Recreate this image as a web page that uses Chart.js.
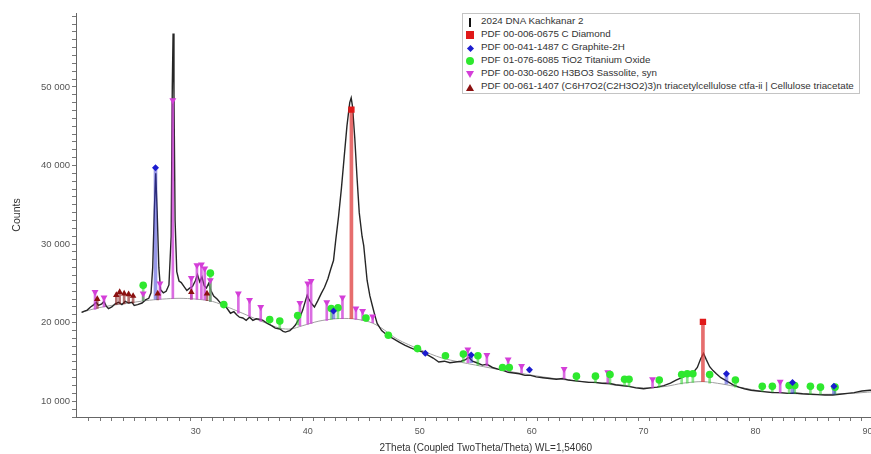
<!DOCTYPE html>
<html>
<head>
<meta charset="utf-8">
<script src="https://cdn.jsdelivr.net/npm/chart.js@4.4.1/dist/chart.umd.min.js"></script>
<style>
  html, body { margin: 0; padding: 0; background: #fff; overflow: hidden; }
  #wrap { position: relative; width: 900px; height: 454px; }
  #legend {
    position: absolute; left: 462px; top: 13px; width: 398px;
    border: 1px solid #c4c4c4; background: #fff; box-sizing: border-box;
    font: 9.8px "Liberation Sans", Arial, sans-serif; color: #333;
    padding: 0 0 1px 0;
  }
  #legend div { height: 13px; line-height: 13px; white-space: nowrap; }
  .mk { display: inline-block; width: 14px; text-align: center; vertical-align: middle; margin-right: 4px; }
  .mk i { display: inline-block; vertical-align: middle; }
</style>
</head>
<body>
<div id="wrap">
  <canvas id="xrd" width="900" height="454"></canvas>
  <div id="legend">
    <div><span class="mk"><i style="width:2px;height:9px;background:#111"></i></span>2024 DNA Kachkanar 2</div>
    <div><span class="mk"><i style="width:8px;height:8px;background:#e01818"></i></span>PDF 00-006-0675 C Diamond</div>
    <div><span class="mk"><i style="width:5px;height:5px;background:#1c1ccf;transform:rotate(45deg)"></i></span>PDF 00-041-1487 C Graphite-2H</div>
    <div><span class="mk"><i style="width:8px;height:8px;border-radius:50%;background:#2ee82e"></i></span>PDF 01-076-6085 TiO2 Titanium Oxide</div>
    <div><span class="mk"><i style="width:0;height:0;border-left:4px solid transparent;border-right:4px solid transparent;border-top:7px solid #d43ed8"></i></span>PDF 00-030-0620 H3BO3 Sassolite, syn</div>
    <div><span class="mk"><i style="width:0;height:0;border-left:4px solid transparent;border-right:4px solid transparent;border-bottom:7px solid #8b1010"></i></span>PDF 00-061-1407 (C6H7O2(C2H3O2)3)n triacetylcellulose ctfa-ii | Cellulose triacetate</div>
  </div>
</div>
<script>
// measured pattern
const twoTheta = [19.8,20.0,20.3,20.6,20.9,21.1,21.3,21.6,21.8,22.0,22.2,22.5,22.8,23.1,23.4,23.7,24.0,24.3,24.5,24.8,
  25.2,25.5,25.8,26.0,26.15,26.3,26.42,26.55,26.7,26.85,27.1,27.35,27.6,27.8,27.9,27.97,28.05,28.15,28.3,28.5,
  28.7,29.0,29.2,29.45,29.7,29.95,30.15,30.35,30.55,30.75,30.95,31.15,31.35,31.6,31.9,32.2,32.5,32.8,33.1,33.4,
  33.65,33.9,34.2,34.5,34.8,35.1,35.4,35.8,36.0,36.4,36.8,37.1,37.5,37.8,38.0,38.4,38.7,38.9,39.1,39.3,
  39.55,39.8,39.95,40.1,40.35,40.6,40.9,41.2,41.5,41.8,42.05,42.3,42.5,42.75,43.0,43.25,43.5,43.75,43.88,44.0,
  44.2,44.4,44.6,44.85,45.0,45.3,45.55,45.8,46.0,46.2,46.6,47.1,47.6,48.2,48.7,49.2,49.7,50.2,50.7,51.2,
  51.7,52.2,52.7,53.2,53.7,54.1,54.4,54.7,55.1,55.6,56.0,56.5,57.0,57.5,57.9,58.4,58.9,59.4,59.9,60.4,
  61.0,61.6,62.2,62.8,63.3,63.9,64.5,65.1,65.7,66.3,66.9,67.5,68.1,68.7,69.3,70.0,70.6,71.2,71.8,72.4,
  72.9,73.4,73.9,74.4,74.8,75.1,75.35,75.6,75.9,76.2,76.5,76.9,77.4,78.0,78.5,79.0,79.6,80.2,80.9,81.5,
  82.2,82.9,83.5,84.2,84.9,85.5,86.2,86.9,87.5,88.2,88.8,89.5,90.2,91.0,92.0];
const counts = [21300,21450,21600,22000,22300,22600,22200,22400,22700,22100,21800,22000,22400,22600,22300,22700,22500,22600,22200,22300,
  22500,22900,23100,23800,27000,34500,39000,34000,27000,24200,23800,24000,24800,31000,50000,56800,49000,33000,26500,25300,
  25100,24500,24100,24400,24600,25300,26100,25200,25800,24700,24400,25000,24100,23400,23000,22500,22300,21800,21200,21400,
  21000,20700,20600,20300,20700,20300,20500,20400,20300,19900,19600,19300,19200,18900,18800,19000,19400,19700,20200,20700,
  21600,22800,23500,23000,22400,22000,22800,23700,24500,25600,26800,27900,30500,33500,37000,41000,45000,48000,48600,47500,
  43500,38500,34000,31000,29800,25400,23400,22000,20900,19900,19000,18400,18000,17500,17100,16800,16500,16300,15900,15500,
  15000,15100,14900,15000,15100,15300,15600,15100,14900,14600,14700,14300,14100,13900,13700,13600,13500,13300,13300,13100,
  13000,12900,12800,12900,12700,12600,12500,12400,12400,12300,12300,12100,12000,11900,11700,11600,11700,11800,12000,12300,
  12700,13000,13300,13600,14300,15400,16100,15300,14400,13900,13500,13000,12600,12100,11800,11600,11400,11300,11200,11100,
  11100,11000,11050,10950,10900,10850,10800,10800,10900,11000,11100,11300,11400,11400,11450];

// background curve
const bgTheta = [19.8,21,22.5,24,25.5,27,28.5,30,31.5,33,34.5,36,37.5,38.5,39.5,41,42.5,44,45.5,46.5,
  48,50,52,55,58,62,66,70,72,73.5,75.3,77,78.5,81,85,88,92];
const bgCounts = [21300,21800,22200,22500,22800,23000,23100,23000,22700,21900,21000,20100,19300,19200,19600,20200,20500,20500,20100,19400,
  17900,16600,15500,14600,13800,12900,12300,11700,11900,12300,12500,12200,11800,11200,10900,10950,11400];

// reference phases: position, marker height, stick base
const diamondPos = [43.9, 75.3];
const diamondTop = [47100, 20100];
const diamondBase = [20500, 12500];

const graphitePos = [26.4, 42.3, 50.5, 54.6, 59.8, 77.4, 83.3, 87.0];
const graphiteTop = [39700, 21500, 16100, 15900, 14000, 13500, 12400, 11900];
const graphiteBase = [23000, 20500, 15900, 14900, 13700, 12200, 11000, 10900];

const tioPos = [25.3, 31.3, 32.5, 36.6, 37.5, 39.1, 42.1, 42.7, 45.2, 47.2, 49.8, 52.3, 53.9, 55.2, 57.4, 58.0, 64.0,
  65.7, 67.0, 68.3, 68.7, 71.4, 73.4, 73.9, 74.4, 75.9, 78.2, 80.6, 81.5, 83.0, 83.5, 84.9, 85.8, 87.1];
const tioTop = [24750, 26300, 22300, 20400, 20200, 20900, 21800, 21900, 20600, 18400, 16700, 15800, 16000, 15800, 14300, 14300, 13200,
  13200, 13400, 12800, 12800, 12700, 13400, 13500, 13500, 13400, 12700, 11900, 11900, 12000, 12000, 11900, 11800, 11800];
const tioBase = [22800, 22700, 22200, 19900, 19300, 19700, 20400, 20500, 20200, 18300, 16600, 15500, 15000, 14600, 14000, 13800, 12600,
  12400, 12200, 12000, 11900, 11800, 12200, 12300, 12400, 12300, 11800, 11300, 11200, 11000, 11000, 10900, 10900, 10900];

const sassPos = [21.0, 21.8, 25.3, 26.8, 27.95, 29.6, 30.1, 30.5, 30.8, 31.3, 33.8, 34.8, 35.8, 39.3, 40.0, 40.3, 41.7,
  43.1, 44.3, 44.9, 45.8, 54.3, 56.0, 57.9, 59.1, 62.9, 66.8, 70.8, 82.2];
const sassTop = [23900, 23200, 23700, 25000, 48300, 25700, 27300, 27400, 26900, 25400, 23700, 22900, 22000, 22500, 25000, 25300, 22600,
  23200, 21800, 21500, 20800, 16600, 15900, 15300, 14500, 14100, 13700, 12800, 12500];
const sassBase = [21700, 22000, 22800, 23000, 23100, 23000, 23000, 23000, 22900, 22700, 21200, 20800, 20200, 19600, 19800, 19900, 20300,
  20500, 20400, 20300, 20000, 14900, 14500, 13800, 13600, 12900, 12300, 11700, 11100];

const cellPos = [21.2, 22.9, 23.2, 23.6, 24.0, 24.4, 26.6, 29.6, 31.0];
const cellTop = [23000, 23500, 23900, 23700, 23600, 23400, 23700, 23900, 23700];
const cellBase = [21800, 22300, 22400, 22400, 22500, 22500, 22900, 23000, 22800];

Chart.defaults.font.family = '"Liberation Sans", Arial, sans-serif';

function sticks(pos, base, top, color, width) {
  return {
    type: "bar",
    data: pos.map((p, i) => ({ x: p, y: [base[i], top[i]] })),
    backgroundColor: color,
    borderWidth: 0,
    barThickness: width,
    grouped: false,
    order: 5
  };
}

function markers(pos, top, style, color, radius, rotation) {
  return {
    type: "scatter",
    data: pos.map((p, i) => ({ x: p, y: top[i] })),
    showLine: false,
    pointStyle: style,
    pointRadius: radius,
    pointRotation: rotation || 0,
    pointBackgroundColor: color,
    pointBorderColor: color,
    pointBorderWidth: 0,
    order: 1
  };
}

new Chart(document.getElementById("xrd"), {
  type: "scatter",
  data: {
    datasets: [
      {
        type: "line",
        data: bgTheta.map((t, i) => ({ x: t, y: bgCounts[i] })),
        borderColor: "#a0a0a0",
        borderWidth: 1,
        pointRadius: 0,
        showLine: true,
        tension: 0.3,
        order: 11
      },
      {
        type: "line",
        data: twoTheta.map((t, i) => ({ x: t, y: counts[i] })),
        borderColor: "#262626",
        borderWidth: 1.4,
        pointRadius: 0,
        showLine: true,
        tension: 0,
        order: 10
      },
      sticks(diamondPos, diamondBase, diamondTop, "rgba(222,60,60,0.75)", 3),
      sticks(graphitePos, graphiteBase, graphiteTop, "rgba(50,50,210,0.5)", 3),
      sticks(tioPos, tioBase, tioTop, "rgba(40,210,40,0.55)", 2),
      sticks(sassPos, sassBase, sassTop, "rgba(205,60,215,0.75)", 2),
      sticks(cellPos, cellBase, cellTop, "rgba(130,20,20,0.6)", 2),
      markers(diamondPos, diamondTop, "rect", "#e01818", 4.5),
      markers(graphitePos, graphiteTop, "rectRot", "#1c1ccf", 3.5),
      markers(tioPos, tioTop, "circle", "#2ee82e", 3.8),
      markers(sassPos, sassTop, "triangle", "#d43ed8", 4, 180),
      markers(cellPos, cellTop, "triangle", "#8b1010", 3.8)
    ]
  },
  options: {
    responsive: false,
    animation: false,
    devicePixelRatio: 1,
    layout: { padding: { top: 13, left: 0, right: 0, bottom: 0 } },
    plugins: {
      legend: { display: false },
      tooltip: { enabled: false }
    },
    scales: {
      x: {
        type: "linear",
        min: 19.8,
        max: 92,
        afterFit: s => { s.height = 37; },
        border: { color: "#666", width: 1 },
        grid: { drawOnChartArea: false, tickLength: 4, color: "#777" },
        ticks: {
          stepSize: 1,
          autoSkip: false,
          maxRotation: 0,
          padding: 5,
          color: "#555",
          font: { size: 9 },
          callback: v => (Math.abs(v % 10) < 1e-6 ? String(v) : "")
        },
        title: {
          display: true,
          text: "2Theta (Coupled TwoTheta/Theta) WL=1,54060",
          color: "#333",
          font: { size: 10 },
          padding: { top: 1, bottom: 0 }
        }
      },
      y: {
        min: 8000,
        max: 59400,
        afterFit: s => { s.width = 76; },
        // one tick mark per 1000 counts, labelled every 10 000
        afterBuildTicks: s => {
          const t = [];
          for (let v = 8000; v <= 59000; v += 1000) t.push({ value: v });
          s.ticks = t;
        },
        border: { color: "#666", width: 1 },
        grid: { drawOnChartArea: false, tickLength: 4, color: "#777" },
        ticks: {
          autoSkip: false,
          padding: 2,
          color: "#555",
          font: { size: 9.5 },
          callback: v => (v % 10000 === 0 ? (v / 1000) + " 000" : "")
        },
        title: {
          display: true,
          text: "Counts",
          color: "#333",
          font: { size: 10.5 },
          padding: { top: 11, bottom: 0 }
        }
      }
    }
  }
});
</script>
</body>
</html>
